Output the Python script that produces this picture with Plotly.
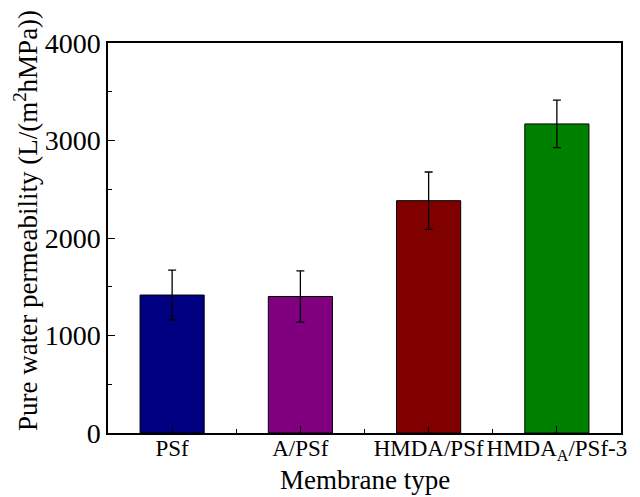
import plotly.graph_objects as go

categories = ["PSf", "A/PSf", "HMDA/PSf", "HMDA<sub>A</sub>/PSf-3"]
values = [1415, 1400, 2383, 3170]
errors = [255, 262, 294, 244]
colors = ["#000080", "#800080", "#800000", "#008000"]

xpos = list(range(len(categories)))
FONT = "Times New Roman"

fig = go.Figure()
fig.add_trace(go.Bar(
    x=xpos, y=values, width=0.5,
    marker=dict(color=colors, line=dict(color="black", width=1)),
    error_y=dict(type="data", array=errors, visible=True, color="black",
                 thickness=1.3, width=4),
))

fig.update_layout(
    width=640, height=497,
    margin=dict(l=108, r=19, t=43, b=64),
    plot_bgcolor="white", paper_bgcolor="white",
    showlegend=False,
    font=dict(family=FONT, color="black"),
    xaxis=dict(
        range=[-0.5, 3.5], tickmode="array", tickvals=xpos, ticktext=categories,
        tickangle=0, automargin=False, ticklabelstandoff=-6,
        ticks="inside", ticklen=7, tickwidth=1, tickcolor="black",
        showline=True, linecolor="black", linewidth=1.5, mirror=True,
        showgrid=False, zeroline=False,
        tickfont=dict(family=FONT, size=23),
        minor=dict(tickmode="array", tickvals=[0.5, 1.5, 2.5], ticks="inside",
                   ticklen=4, tickcolor="black", showgrid=False),
    ),
    yaxis=dict(
        range=[0, 4000], tickmode="linear", tick0=0, dtick=1000, automargin=False,
        ticks="inside", ticklen=7, tickwidth=1, tickcolor="black",
        showline=True, linecolor="black", linewidth=1.5, mirror=True,
        showgrid=False, zeroline=False,
        tickfont=dict(family=FONT, size=28),
        minor=dict(dtick=500, ticks="inside", ticklen=4, tickcolor="black", showgrid=False),
    ),
    annotations=[
        dict(text="Pure water permeability (L/(m<sup>2</sup>hMPa))", textangle=-90,
             xref="paper", yref="paper", x=-0.16, y=0.546, xanchor="center", yanchor="middle",
             showarrow=False, font=dict(family=FONT, size=27)),
        dict(text="Membrane type", xref="paper", yref="paper", x=0.5, y=-0.12,
             xanchor="center", yanchor="middle", showarrow=False,
             font=dict(family=FONT, size=27)),
    ],
)

fig.write_html("out.html")
